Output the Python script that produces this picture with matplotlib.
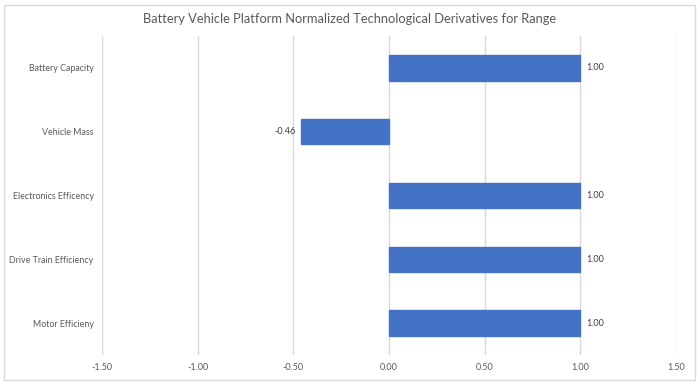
import matplotlib
matplotlib.use("Agg")
import matplotlib.pyplot as plt
from matplotlib.patches import Rectangle

categories = ["Motor Efficieny", "Drive Train Efficiency", "Electronics Efficency", "Vehicle Mass", "Battery Capacity"]
values = [1.00, 1.00, 1.00, -0.46, 1.00]
xticks = [-1.5, -1.0, -0.5, 0.0, 0.5, 1.0, 1.5]
xtick_labels = ["-1.50", "-1.00", "-0.50", "0.00", "0.50", "1.00", "1.50"]
title = "Battery Vehicle Platform Normalized Technological Derivatives for Range"

plt.rcParams['font.family'] = ['Lato', 'DejaVu Sans']

fig = plt.figure(figsize=(7.0, 3.84), dpi=100)
fig.patches.append(Rectangle((4/700, 4/384), 691/700, 375/384, transform=fig.transFigure,
                             fill=False, edgecolor="#d9d9d9", linewidth=1.0))
ax = fig.add_axes([102/700, 1 - 355/384, (676 - 102)/700, (355 - 36)/384])

ypos = list(range(len(categories)))
ax.barh(ypos, values, height=0.4, color="#4472C4", edgecolor="#4472C4", zorder=3)
ax.set_xlim(-1.5, 1.5)
ax.set_ylim(-0.5, len(categories) - 0.5)
ax.set_xticks(xticks)
ax.set_xticklabels(xtick_labels, fontsize=6.5, color="#595959")
ax.set_yticks(ypos)
ax.set_yticklabels(categories, fontsize=6.4, color="#595959")
ax.tick_params(axis="x", length=0, pad=6)
ax.tick_params(axis="y", length=0, pad=6)
ax.grid(axis="x", color="#d9d9d9", linewidth=1.0, zorder=0)
for s in ax.spines.values():
    s.set_visible(False)

for y, v in zip(ypos, values):
    if v >= 0:
        ax.text(v + 0.03, y, f"{v:.2f}", va="center", ha="left", fontsize=6.5, color="#404040")
    else:
        ax.text(v - 0.03, y, f"{v:.2f}", va="center", ha="right", fontsize=6.5, color="#404040")

fig.text(0.5, 1 - 19/384, title, ha="center", va="center", fontsize=9.3, color="#595959")

fig.savefig("out.png", dpi=100)
